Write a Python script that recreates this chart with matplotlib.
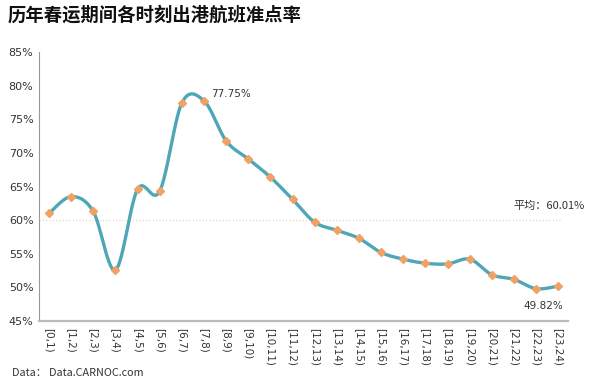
import numpy as np
import matplotlib
matplotlib.use("Agg")
import matplotlib.pyplot as plt

plt.rcParams['font.family'] = ['Noto Sans CJK SC', 'DejaVu Sans']

categories = ["[0,1)", "[1,2)", "[2,3)", "[3,4)", "[4,5)", "[5,6)", "[6,7)", "[7,8)",
              "[8,9)", "[9,10)", "[10,11)", "[11,12)", "[12,13)", "[13,14)", "[14,15)",
              "[15,16)", "[16,17)", "[17,18)", "[18,19)", "[19,20)", "[20,21)", "[21,22)",
              "[22,23)", "[23,24)"]
values = [61.0, 63.5, 61.3, 52.6, 64.6, 64.3, 77.4, 77.75, 71.8, 69.1, 66.4, 63.1,
          59.7, 58.5, 57.3, 55.2, 54.2, 53.6, 53.5, 54.2, 51.9, 51.2, 49.82, 50.2]
average = 60.01
yticks = [45, 50, 55, 60, 65, 70, 75, 80, 85]


def smooth_curve(x, y, n=30, t=1/6):
    # Catmull-Rom style cubic Bezier smoothing (like spreadsheet "smoothed line")
    x = np.asarray(x, float); y = np.asarray(y, float)
    px = np.concatenate([[x[0]], x, [x[-1]]])
    py = np.concatenate([[y[0]], y, [y[-1]]])
    xs, ys = [], []
    s = np.linspace(0, 1, n)
    for i in range(1, len(px) - 2):
        p0 = np.array([px[i], py[i]]); p3 = np.array([px[i+1], py[i+1]])
        c1 = p0 + t * (np.array([px[i+1], py[i+1]]) - np.array([px[i-1], py[i-1]]))
        c2 = p3 - t * (np.array([px[i+2], py[i+2]]) - np.array([px[i], py[i]]))
        b = ((1-s)**3)[:, None]*p0 + (3*(1-s)**2*s)[:, None]*c1 + (3*(1-s)*s**2)[:, None]*c2 + (s**3)[:, None]*p3
        xs.append(b[:, 0]); ys.append(b[:, 1])
    return np.concatenate(xs), np.concatenate(ys)


fig = plt.figure(figsize=(6, 3.85), dpi=100)
ax = fig.add_axes([0.065, 0.166, 0.882, 0.699])

x = np.arange(len(values))
sx, sy = smooth_curve(x, values)
ax.plot(sx, sy, color='#4fa6b6', lw=2.4, solid_capstyle='round', zorder=3)
ax.plot(x, values, linestyle='none', marker='D', ms=4.5, color='#f0a163', zorder=4)

ax.axhline(average, xmin=0, xmax=0.985, color='#e8cdb0', lw=0.8, ls=(0, (1, 2)), zorder=1)

ax.set_xlim(-0.45, 23.45)
ax.set_ylim(45, 85)
ax.set_yticks(yticks)
ax.set_yticklabels([f"{v}%" for v in yticks], fontsize=8, color='#333333', family='DejaVu Sans')
ax.set_xticks(x)
ax.set_xticklabels(categories, rotation=270, fontsize=7.5, color='#333333', family='DejaVu Sans')
ax.tick_params(axis='both', length=0, pad=4)
ax.tick_params(axis='x', pad=5)

for s in ['top', 'right']:
    ax.spines[s].set_visible(False)
ax.spines['left'].set_color('#999999')
ax.spines['left'].set_linewidth(0.8)
ax.spines['bottom'].set_color('#bbbbbb')
ax.spines['bottom'].set_linewidth(1.6)

imax = int(np.argmax(values)); imin = int(np.argmin(values))
ax.annotate(f"{values[imax]:.2f}%", (x[imax], values[imax]), xytext=(5, 3),
            textcoords='offset points', fontsize=7.5, color='#333333', family='DejaVu Sans')
ax.annotate(f"{values[imin]:.2f}%", (x[imin], values[imin]), xytext=(-9, -15),
            textcoords='offset points', fontsize=7.5, color='#333333', family='DejaVu Sans')
ax.text(20.97, average + 1.6, f"平均：{average:.2f}%", fontsize=8, color='#333333', ha='left',
        clip_on=False)

fig.text(0.013, 0.962, "历年春运期间各时刻出港航班准点率", fontsize=13.2, fontweight='bold',
         color='#111111', va='center')
fig.text(0.02, 0.03, "Data： Data.CARNOC.com", fontsize=7.8, color='#333333', va='center')

fig.savefig("out.png", dpi=100)
